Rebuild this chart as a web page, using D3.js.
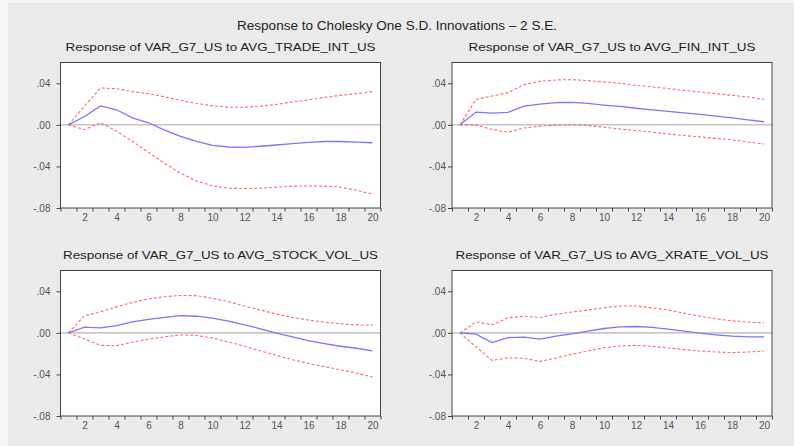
<!DOCTYPE html>
<html>
<head>
<meta charset="utf-8">
<script src="https://cdn.jsdelivr.net/npm/d3@7"></script>
<style>
  html, body { margin: 0; padding: 0; background: #f7f7f7; }
  svg { display: block; }
  text { font-family: "Liberation Sans", Arial, sans-serif; }
</style>
</head>
<body>
<svg id="chart" width="794" height="446"></svg>
<script>
// Impulse horizon (periods)
const periods = [1,2,3,4,5,6,7,8,9,10,11,12,13,14,15,16,17,18,19,20];

// Response of VAR_G7_US to AVG_TRADE_INT_US
const tradeResp  = [0, 0.0080, 0.0183, 0.0145, 0.0068, 0.0020, -0.0050, -0.0110, -0.0160, -0.0197, -0.0213, -0.0216, -0.0206, -0.0194, -0.0180, -0.0168, -0.0160, -0.0160, -0.0166, -0.0172];
const tradeUpper = [0, 0.0180, 0.0355, 0.0348, 0.0320, 0.0300, 0.0270, 0.0235, 0.0206, 0.0184, 0.0170, 0.0170, 0.0180, 0.0197, 0.0220, 0.0240, 0.0265, 0.0284, 0.0300, 0.0320];
const tradeLower = [0, -0.0045, 0.0020, -0.0060, -0.0160, -0.0265, -0.0370, -0.0465, -0.0540, -0.0587, -0.0610, -0.0613, -0.0610, -0.0600, -0.0590, -0.0587, -0.0590, -0.0600, -0.0630, -0.0665];

// Response of VAR_G7_US to AVG_FIN_INT_US
const finResp  = [0, 0.0123, 0.0113, 0.0120, 0.0180, 0.0200, 0.0213, 0.0216, 0.0206, 0.0190, 0.0177, 0.0160, 0.0145, 0.0129, 0.0116, 0.0100, 0.0084, 0.0068, 0.0048, 0.0030];
const finUpper = [0, 0.0245, 0.0277, 0.0310, 0.0387, 0.0420, 0.0432, 0.0435, 0.0426, 0.0413, 0.0400, 0.0380, 0.0365, 0.0350, 0.0332, 0.0316, 0.0300, 0.0284, 0.0268, 0.0245];
const finLower = [0, 0.0000, -0.0045, -0.0070, -0.0030, -0.0013, -0.0003, 0.0000, -0.0006, -0.0023, -0.0040, -0.0055, -0.0070, -0.0087, -0.0103, -0.0116, -0.0130, -0.0145, -0.0165, -0.0184];

// Response of VAR_G7_US to AVG_STOCK_VOL_US
const stockResp  = [0, 0.0055, 0.0048, 0.0070, 0.0106, 0.0129, 0.0148, 0.0165, 0.0160, 0.0142, 0.0113, 0.0077, 0.0039, -0.0003, -0.0039, -0.0074, -0.0103, -0.0129, -0.0148, -0.0174];
const stockUpper = [0, 0.0165, 0.0203, 0.0250, 0.0294, 0.0326, 0.0348, 0.0360, 0.0358, 0.0332, 0.0300, 0.0258, 0.0220, 0.0180, 0.0148, 0.0123, 0.0103, 0.0087, 0.0077, 0.0074];
const stockLower = [0, -0.0060, -0.0120, -0.0123, -0.0090, -0.0060, -0.0039, -0.0019, -0.0026, -0.0048, -0.0087, -0.0129, -0.0174, -0.0216, -0.0258, -0.0294, -0.0326, -0.0355, -0.0387, -0.0426];

// Response of VAR_G7_US to AVG_XRATE_VOL_US
const xrateResp  = [0, -0.0013, -0.0094, -0.0045, -0.0042, -0.0060, -0.0032, -0.0010, 0.0016, 0.0042, 0.0058, 0.0061, 0.0052, 0.0035, 0.0016, -0.0003, -0.0019, -0.0032, -0.0039, -0.0039];
const xrateUpper = [0, 0.0106, 0.0077, 0.0145, 0.0160, 0.0148, 0.0180, 0.0200, 0.0220, 0.0242, 0.0258, 0.0258, 0.0242, 0.0220, 0.0190, 0.0160, 0.0135, 0.0116, 0.0103, 0.0097];
const xrateLower = [0, -0.0135, -0.0265, -0.0240, -0.0245, -0.0274, -0.0242, -0.0206, -0.0174, -0.0142, -0.0126, -0.0120, -0.0129, -0.0145, -0.0161, -0.0174, -0.0184, -0.0190, -0.0184, -0.0174];

const panelTitles = [
  "Response of VAR_G7_US to AVG_TRADE_INT_US",
  "Response of VAR_G7_US to AVG_FIN_INT_US",
  "Response of VAR_G7_US to AVG_STOCK_VOL_US",
  "Response of VAR_G7_US to AVG_XRATE_VOL_US"
];
const yTickValues = [-0.08, -0.04, 0, 0.04];
const xLabelValues = [2,4,6,8,10,12,14,16,18,20];
const mainTitle = "Response to Cholesky One S.D. Innovations \u2013 2 S.E.";

const panels = [
  { title: panelTitles[0], resp: tradeResp, upper: tradeUpper, lower: tradeLower },
  { title: panelTitles[1], resp: finResp,   upper: finUpper,   lower: finLower },
  { title: panelTitles[2], resp: stockResp, upper: stockUpper, lower: stockLower },
  { title: panelTitles[3], resp: xrateResp, upper: xrateUpper, lower: xrateLower }
];

// Layout
const colX = [60.5, 452];
const rowY = [62.5, 270.5];
const pw = 320, ph = 145.5;
const titleWidths = [310, 287, 315, 313];
const labelGap = [6, 2];

const svg = d3.select("#chart");

// Grey canvas
svg.append("rect").attr("x", 8).attr("y", 3).attr("width", 786).attr("height", 443).attr("fill", "#ebebeb");

svg.append("text")
  .attr("x", 397).attr("y", 30)
  .attr("text-anchor", "middle")
  .attr("font-size", 12)
  .attr("fill", "#222")
  .attr("textLength", 320).attr("lengthAdjust", "spacingAndGlyphs")
  .text(mainTitle);

const yFmt = d => (d < 0 ? "-" : "") + d3.format(".2f")(Math.abs(d)).replace(/^0/, "");

panels.forEach((p, i) => {
  const col = i % 2, row = Math.floor(i / 2);
  const x0 = colX[col], y0 = rowY[row];
  const x = d3.scaleLinear().domain([0.5, 20.5]).range([x0, x0 + pw]);
  const y = d3.scaleLinear().domain([-0.08, 0.06]).range([y0 + ph, y0]);

  const g = svg.append("g");

  // plot background
  g.append("rect").attr("x", x0).attr("y", y0).attr("width", pw).attr("height", ph).attr("fill", "#fff");

  // subplot title
  g.append("text")
    .attr("x", x0 + pw / 2).attr("y", y0 - 11.5)
    .attr("text-anchor", "middle")
    .attr("font-size", 10.5)
    .attr("fill", "#222")
    .attr("textLength", titleWidths[i]).attr("lengthAdjust", "spacingAndGlyphs")
    .text(p.title);

  // zero line
  g.append("line")
    .attr("x1", x0).attr("x2", x0 + pw)
    .attr("y1", y(0)).attr("y2", y(0))
    .attr("stroke", row === 0 ? "#a8a8a8" : "#c8c8c8")
    .attr("stroke-width", row === 0 ? 1 : 1.8);

  // lines
  const line = d3.line().x((d, k) => x(periods[k])).y(d => y(d));
  [p.upper, p.lower].forEach(band => {
    g.append("path").datum(band)
      .attr("d", line)
      .attr("fill", "none")
      .attr("stroke", "#ff6e6e")
      .attr("stroke-width", 1.1)
      .attr("stroke-dasharray", "3,2");
  });
  g.append("path").datum(p.resp)
    .attr("d", line)
    .attr("fill", "none")
    .attr("stroke", "#7878ff")
    .attr("stroke-width", 1.3);

  // frame
  g.append("rect").attr("x", x0).attr("y", y0).attr("width", pw).attr("height", ph)
    .attr("fill", "none").attr("stroke", "#444").attr("stroke-width", 1);

  // y axis
  const ya = g.append("g").attr("transform", `translate(${x0},0)`)
    .call(d3.axisLeft(y).tickValues(yTickValues).tickFormat(yFmt).tickSize(4).tickPadding(labelGap[col]));
  ya.select(".domain").remove();
  ya.selectAll(".tick line").attr("stroke", "#444");
  ya.selectAll(".tick text").attr("font-size", 10).attr("fill", "#555")
    .style("font-family", "'Liberation Sans', Arial, sans-serif");

  // x axis ticks at period boundaries
  const xTicks = d3.range(0.5, 21, 1);
  const xa = g.append("g").attr("transform", `translate(0,${y0 + ph})`)
    .call(d3.axisBottom(x).tickValues(xTicks).tickFormat("").tickSize(3.5));
  xa.select(".domain").remove();
  xa.selectAll(".tick line").attr("stroke", "#444");

  // x axis labels
  const xl = g.append("g").attr("transform", `translate(0,${y0 + ph})`)
    .call(d3.axisBottom(x).tickValues(xLabelValues).tickFormat(d3.format("d")).tickSize(0).tickPadding(6));
  xl.select(".domain").remove();
  xl.selectAll(".tick text").attr("font-size", 10).attr("fill", "#555")
    .style("font-family", "'Liberation Sans', Arial, sans-serif");
});
</script>
</body>
</html>
